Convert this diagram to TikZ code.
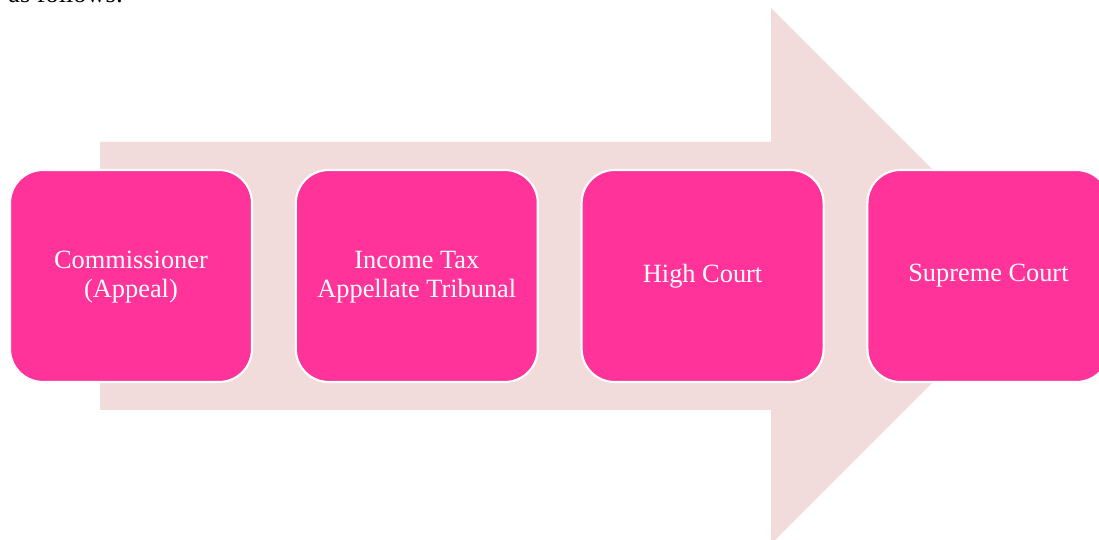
\documentclass[tikz,border=0pt]{standalone}
\usepackage{fontspec}
\setmainfont{Liberation Serif}
\usepackage{tikz}
\usetikzlibrary{positioning}

\definecolor{stagepink}{RGB}{255,51,153}
\definecolor{flowpink}{RGB}{242,220,219}

\begin{document}
\begin{tikzpicture}[x=0.02cm,y=-0.02cm,
  stage/.style={draw=white,line width=1.2pt,fill=stagepink,rounded corners=0.66cm,
    minimum width=4.84cm,minimum height=4.24cm,align=center,text=white,
    font=\fontsize{15}{16.4}\selectfont,inner sep=0pt}]
\clip (0,0) rectangle (1099,540);
% ---- running text above the figure ----
\node[anchor=base west,inner sep=0pt,font=\fontsize{15}{17}\selectfont] (lead) at (8,2.5) {as follows:};
% ---- big arrow behind the stages ----
\fill[flowpink] (100,142) -- (771,142) -- (771,8) -- (1039,276) -- (771,544)
  -- (771,410) -- (100,410) -- cycle;
% ---- stages of appeal ----
\node[stage] (cit) at (131,276) {\strut Commissioner\\(Appeal)};
\node[stage,right=0.835cm of cit] (itat) {\strut Income Tax\\Appellate Tribunal};
\node[stage,right=0.835cm of itat] (hc) {High Court};
\node[stage,right=0.835cm of hc] (sc) {Supreme Court};
\end{tikzpicture}
\end{document}
